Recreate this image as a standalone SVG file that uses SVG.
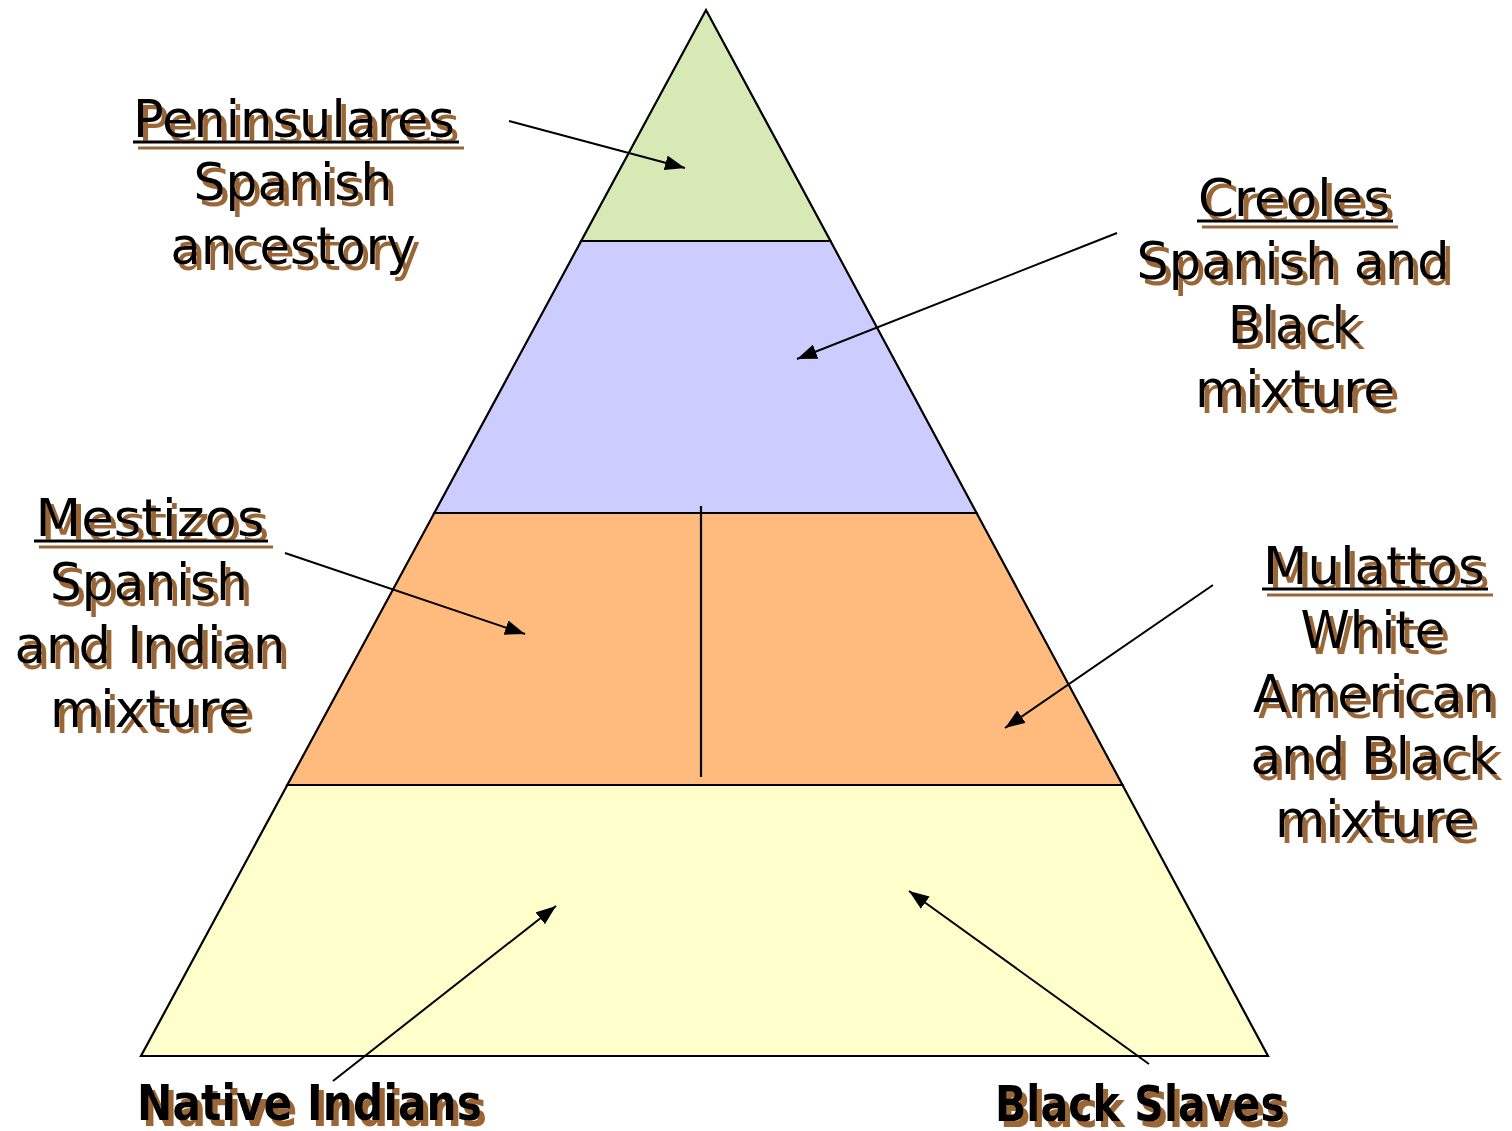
<svg xmlns="http://www.w3.org/2000/svg" width="1512" height="1131" viewBox="0 0 1512 1131">
<defs>
<style>
.band{stroke:#000;stroke-width:2.2}
.lbl{font-family:"DejaVu Sans","Liberation Sans",sans-serif;font-size:52px;fill:#000;text-anchor:middle}
.bold{font-family:"DejaVu Sans","Liberation Sans",sans-serif;font-size:49px;font-weight:bold;fill:#000}
.ul{stroke:#000;stroke-width:3}
.conn line{stroke:#000;stroke-width:2;marker-end:url(#ah)}
</style>
<marker id="ah" markerUnits="userSpaceOnUse" markerWidth="22" markerHeight="16" refX="20" refY="7.5" orient="auto">
<path d="M0,0 L20,7.5 L0,15 Z" fill="#000"/>
</marker>
<filter id="sh" x="-10%" y="-20%" width="130%" height="150%">
<feGaussianBlur in="SourceAlpha" stdDeviation="0.6" result="b"/>
<feOffset in="b" dx="5" dy="6" result="o"/>
<feFlood flood-color="#9a6634"/>
<feComposite in2="o" operator="in" result="s"/>
<feMerge><feMergeNode in="s"/><feMergeNode in="SourceGraphic"/></feMerge>
</filter>
</defs>
<rect width="1512" height="1131" fill="#fff"/>

<g id="pyramid">
<g id="tier-peninsulares"><polygon class="band" points="706,10 830.5,241 581.2,241" fill="#d7e9b4"/></g>
<g id="tier-creoles"><polygon class="band" points="581.2,241 830.5,241 976.6,513 434.3,513" fill="#ccccff"/></g>
<g id="tier-mixed"><polygon class="band" points="434.3,513 976.6,513 1122.5,785 287.3,785" fill="#ffbb7e"/>
<line x1="701" y1="506" x2="701" y2="777" stroke="#000" stroke-width="2.2"/></g>
<g id="tier-base"><polygon class="band" points="287.3,785 1122.5,785 1268,1056 141,1056" fill="#ffffcc"/></g>
</g>

<g id="connectors" class="conn">
<line x1="509" y1="121" x2="685" y2="168"/>
<line x1="1117" y1="233" x2="797" y2="359"/>
<line x1="285" y1="553" x2="525" y2="634"/>
<line x1="1213" y1="585" x2="1005" y2="728"/>
<line x1="333" y1="1081" x2="556" y2="906"/>
<line x1="1149" y1="1064" x2="909" y2="891"/>
</g>

<g id="label-peninsulares" filter="url(#sh)">
<text class="lbl" x="294" y="137" textLength="322" lengthAdjust="spacingAndGlyphs">Peninsulares</text>
<line class="ul" x1="133" y1="142" x2="459" y2="142"/>
<text class="lbl" x="293" y="200" textLength="199" lengthAdjust="spacingAndGlyphs">Spanish</text>
<text class="lbl" x="293" y="264" textLength="245" lengthAdjust="spacingAndGlyphs">ancestory</text>
</g>

<g id="label-creoles" filter="url(#sh)">
<text class="lbl" x="1294" y="216" textLength="192" lengthAdjust="spacingAndGlyphs">Creoles</text>
<line class="ul" x1="1197" y1="221" x2="1393" y2="221"/>
<text class="lbl" x="1293" y="279" textLength="313" lengthAdjust="spacingAndGlyphs">Spanish and</text>
<text class="lbl" x="1294" y="343" textLength="132" lengthAdjust="spacingAndGlyphs">Black</text>
<text class="lbl" x="1295" y="407" textLength="200" lengthAdjust="spacingAndGlyphs">mixture</text>
</g>

<g id="label-mestizos" filter="url(#sh)">
<text class="lbl" x="150" y="536" textLength="229" lengthAdjust="spacingAndGlyphs">Mestizos</text>
<line class="ul" x1="34" y1="541" x2="268" y2="541"/>
<text class="lbl" x="149" y="600" textLength="198" lengthAdjust="spacingAndGlyphs">Spanish</text>
<text class="lbl" x="150" y="663" textLength="271" lengthAdjust="spacingAndGlyphs">and Indian</text>
<text class="lbl" x="150" y="727" textLength="200" lengthAdjust="spacingAndGlyphs">mixture</text>
</g>

<g id="label-mulattos" filter="url(#sh)">
<text class="lbl" x="1374" y="584" textLength="222" lengthAdjust="spacingAndGlyphs">Mulattos</text>
<line class="ul" x1="1262" y1="589" x2="1488" y2="589"/>
<text class="lbl" x="1373" y="648" textLength="145" lengthAdjust="spacingAndGlyphs">White</text>
<text class="lbl" x="1374" y="712" textLength="242" lengthAdjust="spacingAndGlyphs">American</text>
<text class="lbl" x="1374" y="774" textLength="247" lengthAdjust="spacingAndGlyphs">and Black</text>
<text class="lbl" x="1375" y="837" textLength="200" lengthAdjust="spacingAndGlyphs">mixture</text>
</g>

<g id="label-native" filter="url(#sh)">
<text class="bold" x="137" y="1120" textLength="345" lengthAdjust="spacingAndGlyphs">Native Indians</text>
</g>

<g id="label-slaves" filter="url(#sh)">
<text class="bold" x="995" y="1121" textLength="290" lengthAdjust="spacingAndGlyphs">Black Slaves</text>
</g>
</svg>
